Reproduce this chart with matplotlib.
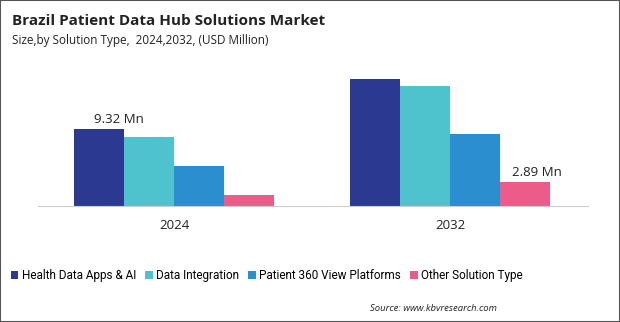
import numpy as np
import matplotlib.pyplot as plt
from matplotlib.patches import Rectangle

years = ['2024', '2032']
segments = ['Health Data Apps & AI', 'Data Integration',
            'Patient 360 View Platforms', 'Other Solution Type']
health_apps = [9.32, 15.37]
data_integration = [8.35, 14.52]
patient_360 = [4.84, 8.71]
other_type = [1.33, 2.89]
colors = ['#2B3990', '#4EC3CE', '#2B8FCF', '#EC5B8A']

plt.rcParams['font.family'] = ['Open Sans', 'DejaVu Sans']

fig = plt.figure(figsize=(6.2, 3.22), dpi=100)
ax = fig.add_axes([0.0613, 0.360, 0.887, 0.438])

x = np.arange(len(years))
w = 0.181
series = [health_apps, data_integration, patient_360, other_type]
for i, vals in enumerate(series):
    ax.bar(x + (i - 1.5) * w, vals, w, color=colors[i], label=segments[i])

ax.text(x[0] - 1.5 * w + 0.07, health_apps[0] + 0.35, '%.2f Mn' % health_apps[0],
        ha='center', va='bottom', fontsize=9.5, color='#222222')
ax.text(x[1] + 1.5 * w + 0.045, other_type[1] + 0.35, '%.2f Mn' % other_type[1],
        ha='center', va='bottom', fontsize=9.5, color='#222222')

ax.set_xlim(-0.493, 1.5)
ax.set_ylim(0, 17)
ax.set_xticks(x)
ax.set_xticklabels(years, fontsize=9.5, color='#222222')
ax.tick_params(axis='x', length=0, pad=9)
ax.set_yticks([])
for s in ['top', 'right', 'left']:
    ax.spines[s].set_visible(False)
ax.spines['bottom'].set_color('#CCCCCC')

fig.text(0.019, 0.935, 'Brazil Patient Data Hub Solutions Market', fontsize=11,
         fontweight='bold', color='#222222', va='center')
fig.text(0.019, 0.875, 'Size,by Solution Type,  2024,2032, (USD Million)', fontsize=8.5,
         color='#222222', va='center')

fig.legend(loc='center left', bbox_to_anchor=(0.017, 0.143), ncol=4, frameon=False,
           prop={'family': ['Roboto', 'DejaVu Sans'], 'size': 8.5},
           handlelength=0.65, handleheight=0.65, handletextpad=0.3,
           columnspacing=0.75, borderaxespad=0, borderpad=0)

fig.text(0.802, 0.043, 'Source: www.kbvresearch.com', fontsize=6.8, style='italic',
         color='#222222', ha='right', va='center')

fig.patches.append(Rectangle((0, 0), 1, 1, transform=fig.transFigure, fill=False,
                             edgecolor='#555555', linewidth=1.5))

fig.savefig('out.png', dpi=100)
